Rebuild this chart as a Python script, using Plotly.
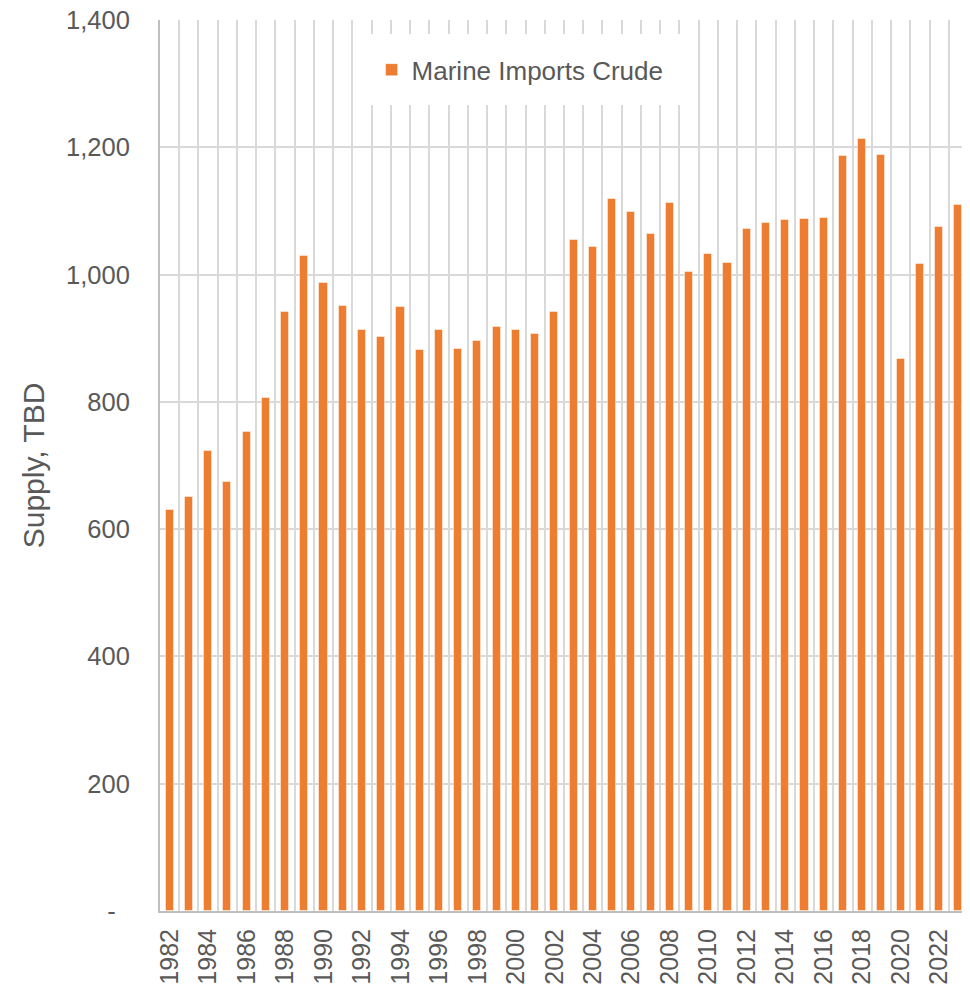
import plotly.graph_objects as go

years = list(range(1982, 2024))
values = [630, 650, 723, 674, 753, 806, 941, 1029, 987, 951,
          913, 902, 949, 882, 913, 883, 896, 918, 913, 907,
          941, 1054, 1043, 1119, 1098, 1064, 1112, 1004, 1032, 1018,
          1072, 1081, 1086, 1087, 1089, 1186, 1213, 1188, 867, 1017,
          1075, 1109]
series_name = "Marine Imports Crude"
y_tickvals = [0, 200, 400, 600, 800, 1000, 1200, 1400]
y_ticktext = ["-\u00a0\u00a0", "200", "400", "600", "800", "1,000", "1,200", "1,400"]
x_tickvals = list(range(1982, 2024, 2))

font_family = "Liberation Sans, Arial, sans-serif"
text_color = "#595959"

fig = go.Figure()
fig.add_trace(go.Bar(
    x=years, y=values, name=series_name,
    marker=dict(color="#ED7D31", line=dict(color="rgba(255,255,255,0.45)", width=1)),
    width=0.42,
))

# page body has an 8px default margin, so the figure is sized to fit the window
fig.update_layout(
    width=962, height=977,
    margin=dict(l=152, r=2, t=12, b=74, autoexpand=False),
    paper_bgcolor="white", plot_bgcolor="white",
    font=dict(family=font_family, size=26, color=text_color),
    showlegend=True,
    legend=dict(x=0.247, y=0.984, xanchor="left", yanchor="top",
                bgcolor="white", borderwidth=12, bordercolor="white",
                font=dict(size=26, color=text_color)),
    bargap=0,
)
fig.update_xaxes(
    range=[1981.5, 2023.5], automargin=False,
    tickmode="array", tickvals=x_tickvals, ticktext=[str(v) for v in x_tickvals],
    tickangle=-90, showgrid=False, ticks="", ticklen=0, ticklabelstandoff=6,
    showline=True, linecolor="#BFBFBF", linewidth=2,
    minor=dict(tick0=1981.5, dtick=1, showgrid=True, gridcolor="#D9D9D9", gridwidth=2),
    tickfont=dict(size=25, color=text_color),
)
fig.update_yaxes(
    range=[0, 1400], automargin=False,
    tickmode="array", tickvals=y_tickvals, ticktext=y_ticktext,
    showgrid=True, gridcolor="#D9D9D9", gridwidth=2,
    showline=True, linecolor="#BFBFBF", linewidth=2,
    zeroline=False, ticks="", ticklen=0, ticklabelstandoff=23,
    ticklabeloverflow="allow",
    title=dict(text="Supply, TBD", font=dict(size=30, color=text_color), standoff=13),
    tickfont=dict(size=25.5, color=text_color),
)

post_js = ("document.querySelectorAll('.main-svg').forEach(function(s){s.style.overflow='visible';});"
           "document.querySelectorAll('.svg-container').forEach(function(s){s.style.overflow='visible';});")
fig.write_html("out.html", post_script=post_js)
